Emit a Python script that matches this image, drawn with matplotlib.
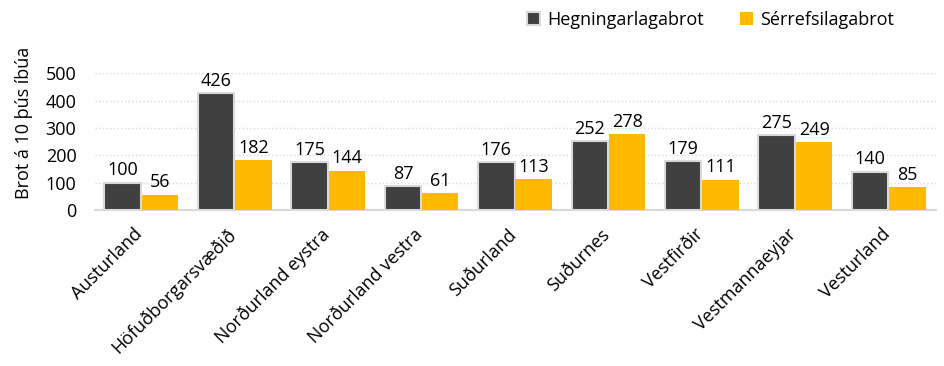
import numpy as np
import matplotlib.pyplot as plt
import matplotlib.transforms as mtransforms

# ------------------- DATA -------------------
regions = ["Austurland", "Höfuðborgarsvæðið", "Norðurland eystra", "Norðurland vestra",
           "Suðurland", "Suðurnes", "Vestfirðir", "Vestmannaeyjar", "Vesturland"]
hegningarlagabrot = [100, 426, 175, 87, 176, 252, 179, 275, 140]
serrefsilagabrot = [56, 182, 144, 61, 113, 278, 111, 249, 85]
series_names = ["Hegningarlagabrot", "Sérrefsilagabrot"]
yticks = [0, 100, 200, 300, 400, 500]
# --------------------------------------------

DARK = "#404040"
GOLD = "#FFB900"
GRID = "#d9d9d9"
FS = 13

plt.rcParams["font.family"] = ["Open Sans", "DejaVu Sans"]

fig = plt.figure(figsize=(9.45, 3.66), dpi=100)
ax = fig.add_axes([0.1, 0.426, 0.89, 0.374])

x = np.arange(len(regions))
w = 0.39
b1 = ax.bar(x - w / 2 - 0.005, hegningarlagabrot, width=w, color=DARK,
            edgecolor=GRID, linewidth=1.5, label=series_names[0], zorder=3)
b2 = ax.bar(x + w / 2 + 0.005, serrefsilagabrot, width=w, color=GOLD,
            label=series_names[1], zorder=3)

for bars, vals in ((b1, hegningarlagabrot), (b2, serrefsilagabrot)):
    for bar, v in zip(bars, vals):
        ax.text(bar.get_x() + bar.get_width() / 2, v + 12, f"{v}",
                ha="center", va="bottom", fontsize=FS)

ax.set_xlim(-0.5, len(regions) - 0.5)
ax.set_ylim(0, 500)
ax.set_yticks(yticks)
ax.set_yticklabels([str(t) for t in yticks], fontsize=FS)
ax.set_xticks(x)
ax.set_xticklabels(regions, rotation=45, ha="right", rotation_mode="anchor", fontsize=FS)
ax.tick_params(axis="y", length=0, pad=13)
ax.tick_params(axis="x", length=0, pad=11)
# nudge rotated labels a little to the left, like the original
shift = mtransforms.ScaledTranslation(-8 / 100, 0, fig.dpi_scale_trans)
for lbl in ax.get_xticklabels():
    lbl.set_transform(lbl.get_transform() + shift)
ax.set_ylabel("Brot á 10 þús íbúa", fontsize=FS)
ax.yaxis.set_label_coords(-0.073, 0.64)

ax.grid(axis="y", color=GRID, linestyle=":", linewidth=1, zorder=0)
for s in ("top", "right", "left"):
    ax.spines[s].set_visible(False)
ax.spines["bottom"].set_color(GRID)
ax.spines["bottom"].set_linewidth(1.5)

fig.legend(handles=[b1, b2], loc="center", bbox_to_anchor=(0.752, 0.945), ncol=2,
           frameon=False, fontsize=FS, handlelength=0.7, handleheight=0.7,
           columnspacing=2.0, handletextpad=0.4)

fig.savefig("out.png", dpi=100)
